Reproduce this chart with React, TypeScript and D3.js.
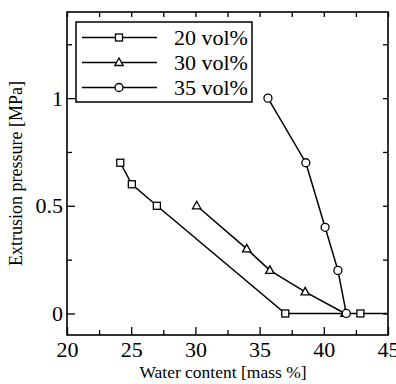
import React, { useEffect, useRef } from "react";
import * as d3 from "d3";

// 20 vol% series (squares); last point sits past the frame, line runs out to the edge
const water20 = [24.15, 25.05, 27.0, 37.0, 42.85, 47];
const press20 = [0.7, 0.6, 0.5, 0.0, 0.0, 0.0];
// 30 vol% series (triangles)
const water30 = [30.1, 34.0, 35.8, 38.55, 41.65];
const press30 = [0.5, 0.3, 0.2, 0.1, 0.0];
// 35 vol% series (circles)
const water35 = [35.65, 38.6, 40.1, 41.1, 41.75];
const press35 = [1.0, 0.7, 0.4, 0.2, 0.0];

const xTicks = [20, 25, 30, 35, 40, 45];
const xMinor = [22.5, 27.5, 32.5, 37.5, 42.5];
const yTicks = [0, 0.5, 1];
const yMinor = [0.25, 0.75, 1.25];
const legendLabels = ["20 vol%", "30 vol%", "35 vol%"];

const FONT = "Liberation Serif";

function App() {
  const svgRef = useRef<SVGSVGElement>(null);
  const width = 396;
  const height = 384;
  const margin = { top: 12, right: 8, bottom: 49, left: 67 };

  useEffect(() => {
    const svg = d3.select(svgRef.current);
    svg.selectAll("*").remove();

    const x = d3.scaleLinear().domain([20, 45]).range([margin.left, width - margin.right]);
    const y = d3.scaleLinear().domain([-0.1, 1.4]).range([height - margin.bottom, margin.top]);
    const [x0, x1] = x.range();
    const [yb, yt] = y.range();

    svg.append("defs").append("clipPath").attr("id", "plot-clip")
      .append("rect").attr("x", x0).attr("y", yt).attr("width", x1 - x0).attr("height", yb - yt);

    const styleAxis = (g: any) => {
      g.attr("font-family", FONT).attr("font-size", 22);
      g.select(".domain").remove();
      g.selectAll("line").attr("stroke", "#000").attr("stroke-width", 1.3);
      g.selectAll("text").attr("fill", "#000");
    };

    // bottom axis, inward ticks
    svg.append("g").attr("transform", `translate(0,${yb})`)
      .call(d3.axisBottom(x).tickValues(xTicks).tickSize(-8).tickPadding(6).tickFormat(d3.format("d")))
      .call(styleAxis);
    svg.append("g").attr("transform", `translate(0,${yb})`)
      .call(d3.axisBottom(x).tickValues(xMinor).tickSize(-5).tickFormat(() => ""))
      .call(styleAxis);
    // left axis
    svg.append("g").attr("transform", `translate(${x0},0)`)
      .call(d3.axisLeft(y).tickValues(yTicks).tickSize(-8).tickPadding(4).tickFormat((d: any) => (d === 0 || d === 1 ? String(d) : d3.format(".1f")(d))))
      .call(styleAxis);
    svg.append("g").attr("transform", `translate(${x0},0)`)
      .call(d3.axisLeft(y).tickValues(yMinor).tickSize(-5).tickFormat(() => ""))
      .call(styleAxis);
    // top and right: short ticks only
    svg.append("g").attr("transform", `translate(0,${yt})`)
      .call(d3.axisTop(x).tickValues([...xTicks, ...xMinor]).tickSize(-5).tickFormat(() => ""))
      .call(styleAxis);
    svg.append("g").attr("transform", `translate(${x1},0)`)
      .call(d3.axisRight(y).tickValues([...yTicks, ...yMinor]).tickSize(-5).tickFormat(() => ""))
      .call(styleAxis);

    // frame
    svg.append("rect").attr("x", x0).attr("y", yt).attr("width", x1 - x0).attr("height", yb - yt)
      .attr("fill", "none").attr("stroke", "#000").attr("stroke-width", 1.6);

    // axis titles
    svg.append("text").attr("x", 223).attr("y", 378).attr("text-anchor", "middle")
      .attr("font-family", FONT).attr("font-size", 17.5).text("Water content [mass %]");
    svg.append("text").attr("transform", `translate(22,${(yt + yb) / 2}) rotate(-90)`)
      .attr("text-anchor", "middle")
      .attr("font-family", FONT).attr("font-size", 18).text("Extrusion pressure [MPa]");

    const series = [
      { xs: water20, ys: press20, shape: "square" },
      { xs: water30, ys: press30, shape: "triangle" },
      { xs: water35, ys: press35, shape: "circle" },
    ];

    const drawMarker = (g: any, shape: string, cx: number, cy: number) => {
      if (shape === "square") {
        g.append("rect").attr("x", cx - 3.5).attr("y", cy - 3.5).attr("width", 7).attr("height", 7)
          .attr("fill", "#fff").attr("stroke", "#000").attr("stroke-width", 1.3);
      } else if (shape === "triangle") {
        g.append("path").attr("d", `M${cx},${cy - 4.5}L${cx + 4.2},${cy + 3}L${cx - 4.2},${cy + 3}Z`)
          .attr("fill", "#fff").attr("stroke", "#000").attr("stroke-width", 1.3);
      } else {
        g.append("circle").attr("cx", cx).attr("cy", cy).attr("r", 4)
          .attr("fill", "#fff").attr("stroke", "#000").attr("stroke-width", 1.3);
      }
    };

    const plot = svg.append("g").attr("clip-path", "url(#plot-clip)");
    const line = d3.line<[number, number]>().x((d) => x(d[0])).y((d) => y(d[1]));
    series.forEach((s) => {
      const pts = s.xs.map((v, i) => [v, s.ys[i]] as [number, number]);
      plot.append("path").attr("d", line(pts)).attr("fill", "none").attr("stroke", "#000").attr("stroke-width", 1.5);
    });
    series.forEach((s) => {
      s.xs.forEach((v, i) => {
        if (v > 45) return;
        drawMarker(plot, s.shape, x(v), y(s.ys[i]));
      });
    });

    // legend
    const lg = svg.append("g");
    lg.append("rect").attr("x", 76).attr("y", 22).attr("width", 176).attr("height", 80)
      .attr("fill", "#fff").attr("stroke", "#000").attr("stroke-width", 1.5);
    series.forEach((s, i) => {
      const ly = 37.5 + i * 25;
      lg.append("line").attr("x1", 82).attr("x2", 157).attr("y1", ly).attr("y2", ly)
        .attr("stroke", "#000").attr("stroke-width", 1.5);
      drawMarker(lg, s.shape, 119, ly);
      lg.append("text").attr("x", 174).attr("y", ly + 7.5)
        .attr("font-family", FONT).attr("font-size", 22).text(legendLabels[i]);
    });
  }, []);

  return (
    <svg ref={svgRef} width={width} height={height}
      style={{ position: "absolute", left: 0, top: 0, background: "#fff" }} />
  );
}

export default App;
